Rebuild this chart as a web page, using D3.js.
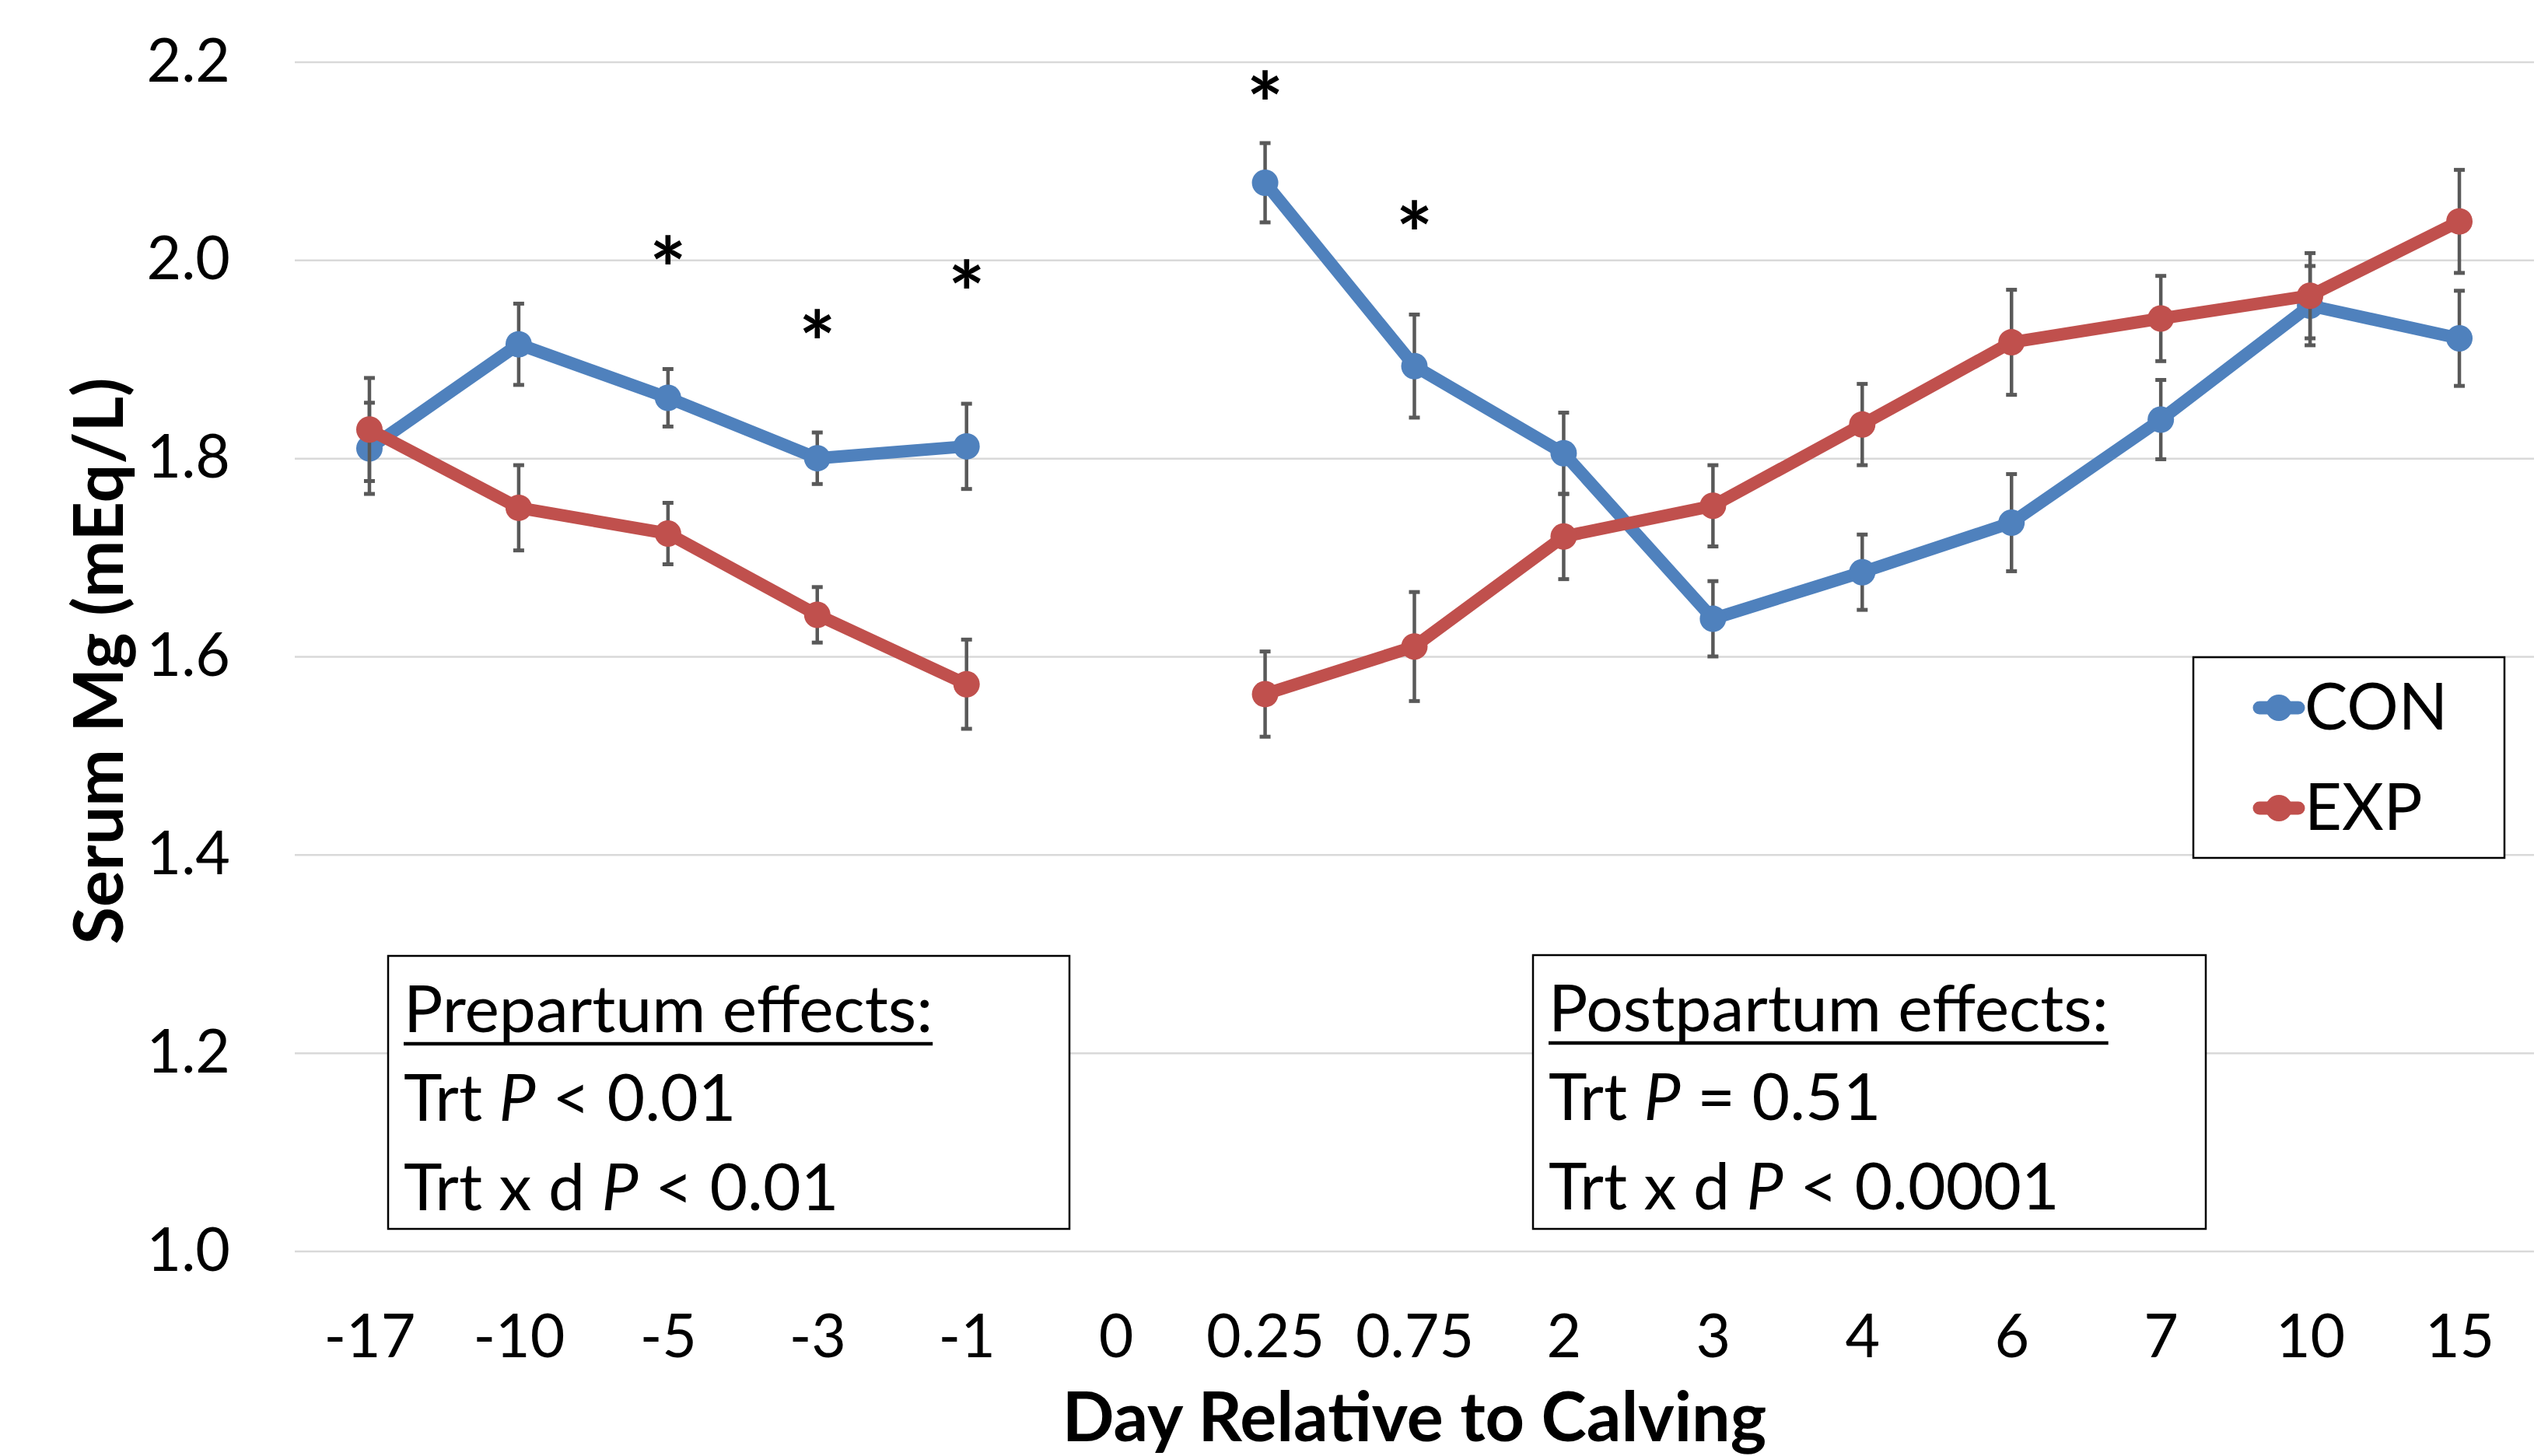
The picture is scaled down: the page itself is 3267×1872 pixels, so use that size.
<!DOCTYPE html>
<html>
<head>
<meta charset="utf-8">
<script src="https://cdn.jsdelivr.net/npm/d3@7"></script>
<style>
  html, body { margin: 0; padding: 0; background: #ffffff; }
  svg { display: block; }
</style>
</head>
<body>
<div id="chart"></div>
<script>
// ---------- data ----------
const days = ["-17", "-10", "-5", "-3", "-1", "0", "0.25", "0.75", "2", "3", "4", "6", "7", "10", "15"];
const conMean = [1.810, 1.915, 1.861, 1.800, 1.812, null, 2.078, 1.893, 1.805, 1.638, 1.685, 1.735, 1.839, 1.954, 1.921];
const conSE   = [0.046, 0.041, 0.029, 0.026, 0.043, null, 0.040, 0.052, 0.041, 0.038, 0.038, 0.049, 0.040, 0.040, 0.048];
const expMean = [1.829, 1.750, 1.724, 1.642, 1.572, null, 1.562, 1.610, 1.721, 1.752, 1.834, 1.917, 1.941, 1.964, 2.039];
const expSE   = [0.052, 0.043, 0.031, 0.028, 0.045, null, 0.043, 0.055, 0.043, 0.041, 0.041, 0.053, 0.043, 0.043, 0.052];
const yTicks = [1.0, 1.2, 1.4, 1.6, 1.8, 2.0, 2.2];
const sigDays = ["-5", "-3", "-1", "0.25", "0.75"];
const sigLevel = [2.010, 1.935, 1.985, 2.176, 2.045];
const seriesNames = ["CON", "EXP"];
const seriesColors = ["#4F81BD", "#C0504D"];
const prepartumLines = ["Prepartum effects:", ["Trt ", "P", " < 0.01"], ["Trt x d ", "P", " < 0.01"]];
const postpartumLines = ["Postpartum effects:", ["Trt ", "P", " = 0.51"], ["Trt x d ", "P", " < 0.0001"]];
const xTitle = "Day Relative to Calving";
const yTitle = "Serum Mg (mEq/L)";

// ---------- layout ----------
const W = 3267, H = 1872;
const plotL = 379, plotR = 3258, plotT = 79.5, plotB = 1608.5;
const FONT = "Lato, 'Open Sans', sans-serif";

const svg = d3.select("#chart").append("svg")
  .attr("width", W).attr("height", H)
  .attr("viewBox", `0 0 ${W} ${H}`)
  .style("font-family", FONT);

svg.append("rect").attr("width", W).attr("height", H).attr("fill", "#fff");

const x = d3.scalePoint().domain(days).range([plotL, plotR]).padding(0.5);
const y = d3.scaleLinear().domain([1.0, 2.2]).range([plotB, plotT]);

// gridlines
const grid = svg.append("g").attr("transform", `translate(${plotL},0)`)
  .call(d3.axisLeft(y).tickValues(yTicks).tickSize(-(plotR - plotL)).tickFormat(""));
grid.select(".domain").remove();
grid.selectAll(".tick line").attr("stroke", "#d9d9d9").attr("stroke-width", 2.5);

// y axis labels
const yAxis = svg.append("g").attr("transform", `translate(${plotL},0)`)
  .call(d3.axisLeft(y).tickValues(yTicks).tickSize(0).tickPadding(83).tickFormat(d3.format(".1f")));
yAxis.select(".domain").remove();
yAxis.selectAll("text").attr("font-size", 77).attr("font-family", FONT).attr("fill", "#000");

// x axis labels
const xAxis = svg.append("g").attr("transform", `translate(0,${plotB})`)
  .call(d3.axisBottom(x).tickSize(0));
xAxis.select(".domain").remove();
xAxis.selectAll("text")
  .attr("font-size", 77).attr("font-family", FONT).attr("fill", "#000")
  .attr("y", 136.5).attr("dy", null);

// axis titles
svg.append("text")
  .attr("x", (plotL + plotR) / 2).attr("y", 1853)
  .attr("text-anchor", "middle")
  .attr("font-size", 88).attr("font-weight", "bold")
  .text(xTitle);

svg.append("text")
  .attr("transform", `translate(158,850) rotate(-90)`)
  .attr("text-anchor", "middle")
  .attr("font-size", 88).attr("font-weight", "bold")
  .text(yTitle);

// series
const series = [
  { name: seriesNames[0], color: seriesColors[0], mean: conMean, se: conSE },
  { name: seriesNames[1], color: seriesColors[1], mean: expMean, se: expSE }
];

const line = d3.line()
  .defined(d => d.v !== null)
  .x(d => x(d.day))
  .y(d => y(d.v));

series.forEach(s => {
  const pts = days.map((day, i) => ({ day, v: s.mean[i], e: s.se[i] }));
  const valid = pts.filter(p => p.v !== null);
  const g = svg.append("g");

  // error bars
  const eb = g.append("g").selectAll("g").data(valid).join("g");
  eb.append("line")
    .attr("x1", d => x(d.day)).attr("x2", d => x(d.day))
    .attr("y1", d => y(d.v + d.e)).attr("y2", d => y(d.v - d.e))
    .attr("stroke", "#595959").attr("stroke-width", 4.5);
  [1, -1].forEach(sign => {
    eb.append("line")
      .attr("x1", d => x(d.day) - 7).attr("x2", d => x(d.day) + 7)
      .attr("y1", d => y(d.v + sign * d.e)).attr("y2", d => y(d.v + sign * d.e))
      .attr("stroke", "#595959").attr("stroke-width", 5);
  });

  g.append("path").datum(pts)
    .attr("d", line)
    .attr("fill", "none")
    .attr("stroke", s.color).attr("stroke-width", 16)
    .attr("stroke-linejoin", "round").attr("stroke-linecap", "round");

  g.append("g").selectAll("circle").data(valid).join("circle")
    .attr("cx", d => x(d.day)).attr("cy", d => y(d.v))
    .attr("r", 17).attr("fill", s.color);
});

// significance asterisks
svg.append("g").selectAll("text").data(sigDays.map((d, i) => ({ day: d, v: sigLevel[i] }))).join("text")
  .attr("x", d => x(d.day)).attr("y", d => y(d.v))
  .attr("dy", "0.58em")
  .attr("text-anchor", "middle")
  .attr("font-size", 112).attr("font-weight", "bold")
  .text("*");

// annotation boxes
function statBox(bx, by, bw, bh, lines) {
  const g = svg.append("g");
  g.append("rect").attr("x", bx).attr("y", by).attr("width", bw).attr("height", bh)
    .attr("fill", "#fff").attr("stroke", "#000").attr("stroke-width", 2.5);
  const tx = bx + 20;
  const baselines = [by + 98, by + 212, by + 327];
  const fs = 84;
  const head = g.append("text").attr("x", tx).attr("y", baselines[0])
    .attr("font-size", fs).text(lines[0]);
  const hw = head.node().getComputedTextLength();
  g.append("line").attr("x1", tx).attr("x2", tx + hw)
    .attr("y1", baselines[0] + 15).attr("y2", baselines[0] + 15)
    .attr("stroke", "#000").attr("stroke-width", 4.5);
  [lines[1], lines[2]].forEach((parts, i) => {
    const t = g.append("text").attr("x", tx).attr("y", baselines[i + 1]).attr("font-size", fs);
    parts.forEach((p, j) => {
      t.append("tspan").attr("font-style", j === 1 ? "italic" : "normal").text(p);
    });
  });
}
statBox(499, 1229, 876, 351, prepartumLines);
statBox(1971, 1228, 865, 352, postpartumLines);

// legend
const lg = svg.append("g");
lg.append("rect").attr("x", 2820).attr("y", 845).attr("width", 400).attr("height", 258)
  .attr("fill", "#fff").attr("stroke", "#000").attr("stroke-width", 2.5);
series.forEach((s, i) => {
  const cy = [910, 1039][i];
  lg.append("line").attr("x1", 2905).attr("x2", 2955).attr("y1", cy).attr("y2", cy)
    .attr("stroke", s.color).attr("stroke-width", 17).attr("stroke-linecap", "round");
  lg.append("circle").attr("cx", 2930).attr("cy", cy).attr("r", 17).attr("fill", s.color);
  lg.append("text").attr("x", 2963).attr("y", cy + 28)
    .attr("font-size", 83).text(s.name);
});
</script>
</body>
</html>
